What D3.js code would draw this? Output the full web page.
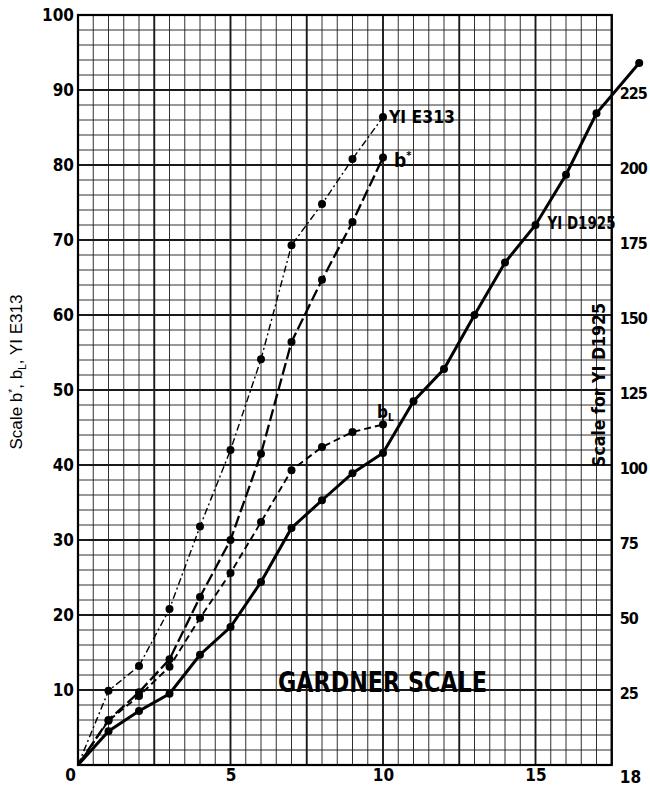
<!DOCTYPE html>
<html>
<head>
<meta charset="utf-8">
<script src="https://cdn.jsdelivr.net/npm/d3@7"></script>
<style>
  html, body { margin: 0; padding: 0; background: #fff; }
  svg { display: block; }
  .cond { font-family: "Liberation Sans Narrow", "Arial Narrow", "DejaVu Sans Condensed", sans-serif; font-weight: bold; }
</style>
</head>
<body>
<svg id="chart" width="650" height="789"></svg>
<script>
// ---------- data ----------
const xs      = [0, 1, 2, 3, 4, 5, 6, 7, 8, 9, 10];
const e313    = [0, 9.9, 13.2, 20.8, 31.8, 42, 54.1, 69.3, 74.8, 80.8, 86.4];
const bStar   = [0, 6, 9.7, 14.1, 22.4, 30, 41.5, 56.4, 64.7, 72.4, 81];
const bL      = [0, 5.9, 9.2, 13.1, 19.6, 25.6, 32.4, 39.3, 42.4, 44.4, 45.4];
const xD      = [0, 1, 2, 3, 4, 5, 6, 7, 8, 9, 10, 11, 12, 13, 14, 15, 16, 17, 18.4];
const d1925   = [0, 11.25, 18, 23.75, 36.75, 46, 61, 79, 88.25, 97.25, 104, 121.25, 132, 150, 167.5, 180, 196.75, 217.25, 234];
const xTicks  = [0, 5, 10, 15, 18];
const yLTicks = [10, 20, 30, 40, 50, 60, 70, 80, 90, 100];
const yRTicks = [25, 50, 75, 100, 125, 150, 175, 200, 225];

// ---------- scales ----------
const svg = d3.select("#chart");
const x  = d3.scaleLinear().domain([0, 17.5]).range([78, 611.75]);
const yL = d3.scaleLinear().domain([0, 100]).range([765, 15]);
const yR = d3.scaleLinear().domain([0, 250]).range([765, 15]);

// ---------- grid ----------
const g = svg.append("g");
const vLines = d3.range(0, 17.5001, 0.5);
const hLines = d3.range(0, 100.001, 2);
g.selectAll("line.v").data(vLines).join("line")
  .attr("x1", d => x(d)).attr("x2", d => x(d))
  .attr("y1", yL(0)).attr("y2", yL(100))
  .attr("stroke", "#1a1a1a")
  .attr("stroke-width", d => (Math.abs(d / 2.5 - Math.round(d / 2.5)) < 1e-6) ? 1.9 : 0.9);
g.selectAll("line.h").data(hLines).join("line")
  .attr("x1", x(0)).attr("x2", x(17.5))
  .attr("y1", d => yL(d)).attr("y2", d => yL(d))
  .attr("stroke", "#1a1a1a")
  .attr("stroke-width", d => (d % 10 === 0) ? 1.9 : 0.9);
// frame
g.append("rect")
  .attr("x", x(0)).attr("y", yL(100))
  .attr("width", x(17.5) - x(0)).attr("height", yL(0) - yL(100))
  .attr("fill", "none").attr("stroke", "#000").attr("stroke-width", 2.2);

// ---------- axes ----------
const axL = svg.append("g").attr("transform", `translate(${x(0) - 2},0)`)
  .call(d3.axisLeft(yL).tickValues(yLTicks).tickSize(0).tickPadding(2));
axL.select(".domain").remove();
axL.selectAll("text").attr("class", "cond").attr("font-size", 17).attr("fill", "#000");

const axR = svg.append("g").attr("transform", `translate(${x(17.5) + 6},3)`)
  .call(d3.axisRight(yR).tickValues(yRTicks).tickSize(0).tickPadding(2));
axR.select(".domain").remove();
axR.selectAll("text").attr("class", "cond").attr("font-size", 16).attr("fill", "#000")
  .attr("letter-spacing", -1);

const axB = svg.append("g").attr("transform", `translate(0,${yL(0) + 2})`)
  .call(d3.axisBottom(x).tickValues(xTicks).tickSize(0).tickPadding(2).tickFormat(d3.format("d")));
axB.select(".domain").remove();
axB.selectAll("text").attr("class", "cond").attr("font-size", 17).attr("fill", "#000")
  .attr("dx", d => d === 0 ? -8 : (d === 18 ? 3 : 0)).attr("dy", d => d === 18 ? "0.85em" : "0.72em");

// ---------- series ----------
const lineGen = (xv, yv, ys) => d3.line().x((d, i) => x(xv[i])).y((d, i) => ys(yv[i]))(yv);

const series = [
  { xv: xs, yv: e313,  ys: yL, w: 1.4, dash: "7,3,2,3" },
  { xv: xs, yv: bStar, ys: yL, w: 2.3, dash: "12,4" },
  { xv: xs, yv: bL,    ys: yL, w: 1.9, dash: "7,4" },
  { xv: xD, yv: d1925, ys: yR, w: 3.0, dash: null }
];
series.forEach(s => {
  svg.append("path")
    .attr("d", lineGen(s.xv, s.yv, s.ys))
    .attr("fill", "none").attr("stroke", "#000")
    .attr("stroke-width", s.w)
    .attr("stroke-dasharray", s.dash);
  svg.append("g").selectAll("circle")
    .data(s.yv.map((v, i) => [s.xv[i], v]).filter(p => p[0] > 0))
    .join("circle")
    .attr("cx", d => x(d[0])).attr("cy", d => s.ys(d[1]))
    .attr("r", 4).attr("fill", "#000");
});

// ---------- labels ----------
svg.append("text").attr("class", "cond").attr("x", x(10) + 6).attr("y", yL(e313[10]) + 6)
  .attr("font-size", 17).attr("textLength", 66).attr("lengthAdjust", "spacingAndGlyphs")
  .text("YI E313");
const bs = svg.append("text").attr("class", "cond").attr("x", x(10) + 11).attr("y", yL(bStar[10]) + 9)
  .attr("font-size", 19);
bs.append("tspan").text("b");
bs.append("tspan").attr("font-size", 11).attr("dy", -8).text("*");
const bl = svg.append("text").attr("class", "cond").attr("x", x(10) - 6).attr("y", yL(bL[10]) - 7)
  .attr("font-size", 17);
bl.append("tspan").text("b");
bl.append("tspan").attr("font-size", 10).attr("dy", 3).text("L");
svg.append("text").attr("class", "cond").attr("x", x(15) + 12).attr("y", yR(d1925[15]) + 4)
  .attr("font-size", 18).attr("textLength", 68).attr("lengthAdjust", "spacingAndGlyphs")
  .text("YI D1925");

svg.append("text").attr("class", "cond").attr("x", 278).attr("y", 692)
  .attr("font-size", 28).attr("textLength", 209).attr("lengthAdjust", "spacingAndGlyphs")
  .text("GARDNER SCALE");

// axis titles
const lt = svg.append("text")
  .attr("transform", "translate(22,372) rotate(-90)")
  .attr("text-anchor", "middle")
  .attr("font-family", "Liberation Sans, Arial, sans-serif")
  .attr("font-size", 17).attr("textLength", 155).attr("lengthAdjust", "spacingAndGlyphs");
lt.append("tspan").text("Scale b");
lt.append("tspan").attr("font-size", 10).attr("dy", -6).text("*");
lt.append("tspan").attr("dy", 6).text(", b");
lt.append("tspan").attr("font-size", 10).attr("dy", 4).text("L");
lt.append("tspan").attr("dy", -4).text(", YI E313");

svg.append("text").attr("class", "cond")
  .attr("transform", "translate(605,385) rotate(-90)")
  .attr("text-anchor", "middle")
  .attr("font-size", 18).attr("textLength", 164).attr("lengthAdjust", "spacingAndGlyphs")
  .text("Scale for YI D1925");
</script>
</body>
</html>
